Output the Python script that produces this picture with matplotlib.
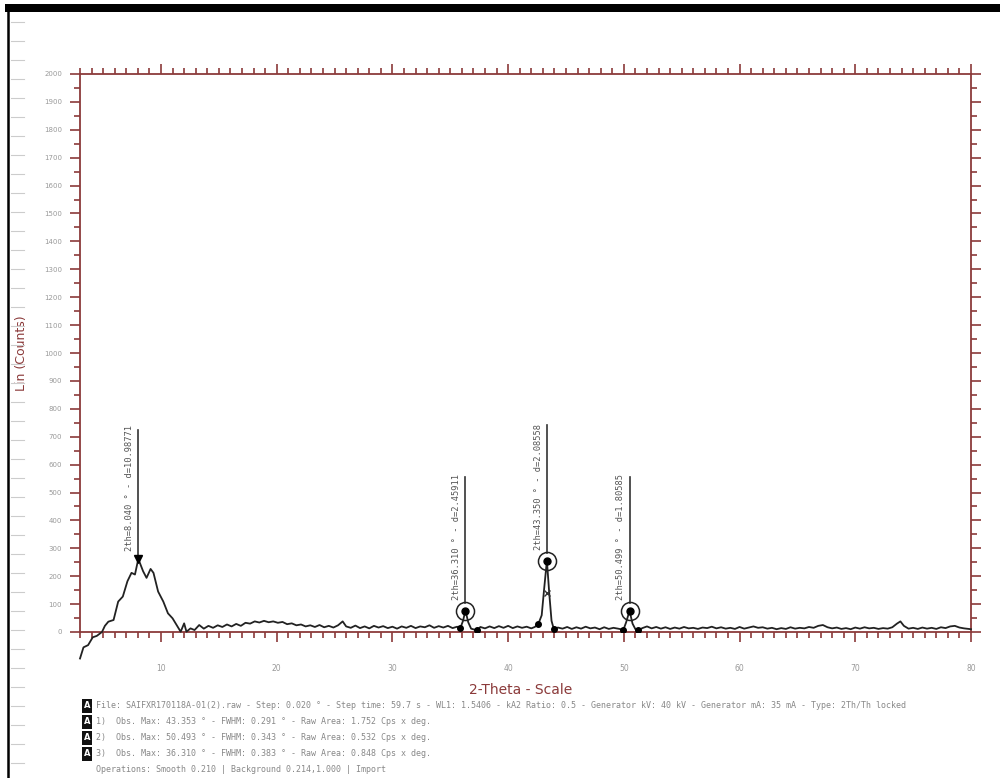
import numpy as np
import matplotlib
matplotlib.use('Agg')
import matplotlib.pyplot as plt
from matplotlib.lines import Line2D
from matplotlib.patches import Rectangle
from matplotlib.ticker import MultipleLocator

# scan data (2-theta in deg, counts)
two_theta = [3.0, 3.3, 3.7, 4.1, 4.45, 4.9, 5.15, 5.45, 5.9, 6.3, 6.7, 7.1, 7.45, 7.75, 8.04,
             8.45, 8.75, 9.1, 9.35, 9.75, 10.2, 10.6, 11.0, 11.35, 11.7, 12.0, 12.2, 12.55, 12.9,
             13.3, 13.7, 14.1, 14.5, 14.9, 15.3, 15.7, 16.1, 16.5, 16.9, 17.3, 17.7, 18.1, 18.5,
             18.9, 19.3, 19.7, 20.1, 20.5, 20.9, 21.3, 21.7, 22.1, 22.5, 22.9, 23.3, 23.7, 24.1,
             24.5, 24.9, 25.3, 25.7, 26.0, 26.4, 26.8, 27.2, 27.6, 28.0, 28.4, 28.8, 29.2, 29.6,
             30.0, 30.4, 30.8, 31.2, 31.6, 32.0, 32.4, 32.8, 33.2, 33.6, 34.0, 34.4, 34.8, 35.2,
             35.6, 35.85, 36.1, 36.31, 36.55, 36.8, 37.3, 37.6, 38.0, 38.4, 38.8, 39.2, 39.6, 40.0,
             40.4, 40.8, 41.2, 41.6, 42.0, 42.3, 42.6, 42.9, 43.1, 43.35, 43.55, 43.75, 43.95, 44.3,
             44.7, 45.1, 45.5, 45.9, 46.3, 46.7, 47.1, 47.5, 47.9, 48.3, 48.7, 49.1, 49.5, 49.96,
             50.2, 50.49, 50.75, 51.0, 51.25, 51.6, 52.0, 52.4, 52.8, 53.2, 53.6, 54.0, 54.4, 54.8,
             55.2, 55.6, 56.0, 56.4, 56.8, 57.2, 57.6, 58.0, 58.4, 58.8, 59.2, 59.6, 60.0, 60.4,
             60.8, 61.2, 61.6, 62.0, 62.4, 62.8, 63.2, 63.6, 64.0, 64.4, 64.8, 65.2, 65.6, 66.0,
             66.4, 66.8, 67.2, 67.6, 68.0, 68.4, 68.8, 69.2, 69.6, 70.0, 70.4, 70.8, 71.2, 71.6,
             72.0, 72.4, 72.8, 73.2, 73.6, 73.9, 74.2, 74.6, 75.0, 75.4, 75.8, 76.2, 76.6, 77.0,
             77.4, 77.8, 78.2, 78.6, 79.0, 79.4, 80.0]
counts = [-95, -55, -47, -19, -14, 0, 22, 37, 43, 109, 127, 182, 212, 206, 262,
          218, 194, 226, 212, 145, 109, 67, 49, 25, 1, 31, 1, 13, 7,
          25, 12, 22, 15, 24, 18, 27, 20, 29, 22, 33, 30, 38, 34,
          40, 35, 38, 33, 36, 28, 31, 24, 27, 20, 24, 18, 25, 17,
          22, 16, 24, 38, 20, 15, 23, 14, 20, 13, 22, 16, 21, 14,
          19, 12, 20, 15, 22, 14, 20, 17, 24, 15, 21, 16, 22, 14,
          19, 12, 40, 77, 35, 12, 6, 18, 13, 20, 14, 21, 15, 22,
          14, 20, 15, 19, 13, 18, 28, 60, 150, 256, 140, 40, 10, 16,
          12, 18, 11, 17, 12, 19, 13, 16, 10, 17, 11, 15, 12, 8,
          35, 76, 30, 10, 6, 14, 20, 13, 18, 12, 17, 11, 16, 12,
          18, 13, 15, 11, 16, 14, 19, 13, 17, 12, 15, 11, 18, 12,
          16, 20, 15, 17, 12, 15, 10, 14, 11, 17, 12, 15, 13, 18,
          15, 22, 25, 17, 13, 16, 11, 14, 10, 16, 12, 17, 13, 15,
          11, 14, 12, 17, 30, 38, 22, 12, 15, 11, 16, 12, 15, 11,
          17, 14, 20, 22, 16, 13, 10]

# peak annotations
peak_pos = [8.04, 36.31, 43.35, 50.49]
peak_val = [262, 77, 256, 76]
stick_top = [725, 555, 741, 555]
text_base = [290, 115, 295, 115]
peak_text = ['2th=8.040 \u00b0 - d=10.98771', '2th=36.310 \u00b0 - d=2.45911',
             '2th=43.350 \u00b0 - d=2.08558', '2th=50.499 \u00b0 - d=1.80585']
bound_x = [35.85, 37.3, 42.6, 43.95, 49.96, 51.25]
bound_y = [14, 6, 28, 10, 8, 6]

legend_lines = [
    'File: SAIFXR170118A-01(2).raw - Step: 0.020 \u00b0 - Step time: 59.7 s - WL1: 1.5406 - kA2 Ratio: 0.5 - Generator kV: 40 kV - Generator mA: 35 mA - Type: 2Th/Th locked',
    '1)  Obs. Max: 43.353 \u00b0 - FWHM: 0.291 \u00b0 - Raw Area: 1.752 Cps x deg.',
    '2)  Obs. Max: 50.493 \u00b0 - FWHM: 0.343 \u00b0 - Raw Area: 0.532 Cps x deg.',
    '3)  Obs. Max: 36.310 \u00b0 - FWHM: 0.383 \u00b0 - Raw Area: 0.848 Cps x deg.',
    'Operations: Smooth 0.210 | Background 0.214,1.000 | Import',
]

axcol = '#8b3a3a'
W, H = 1000, 778
fig = plt.figure(figsize=(10, 7.78), dpi=100)
ax = fig.add_axes([80 / W, 1 - 632 / H, (971 - 80) / W, (632 - 74) / H])

ax.plot(two_theta, counts, color='#222222', lw=1.3, clip_on=False, zorder=3)
ax.set_xlim(3, 80)
ax.set_ylim(0, 2000)

# peak sticks, markers and labels
for x, v, top, tb, s in zip(peak_pos, peak_val, stick_top, text_base, peak_text):
    if x < 10:
        ax.plot([x], [v], marker='v', color='black', ms=6, zorder=5)
        ax.plot([x, x], [v + 15, top], color='#333333', lw=1.2, zorder=4)
    else:
        ax.plot([x], [v], marker='o', mfc='none', mec='#222222', ms=13, mew=1.1, zorder=5)
        ax.plot([x], [v], marker='o', color='black', ms=5, zorder=5)
        ax.plot([x, x], [v + 28, top], color='#333333', lw=1.2, zorder=4)
    ax.text(x - 0.35, tb, s, rotation=90, ha='right', va='bottom', fontsize=6.3,
            family='DejaVu Sans Mono', color='#555555')
ax.plot(bound_x, bound_y, 'o', color='black', ms=4, zorder=5)
ax.plot([43.4], [140], marker='x', color='#333333', ms=5, zorder=5)

# axes styling
for sp in ax.spines.values():
    sp.set_color(axcol)
    sp.set_linewidth(1.3)
ax.xaxis.set_major_locator(MultipleLocator(10))
ax.xaxis.set_minor_locator(MultipleLocator(1))
ax.yaxis.set_major_locator(MultipleLocator(100))
ax.yaxis.set_minor_locator(MultipleLocator(50))
ax.tick_params(which='both', direction='out', color=axcol, width=1.2,
               top=True, right=True, bottom=True, left=True)
ax.tick_params(which='major', length=7)
ax.tick_params(which='minor', length=4)
ax.tick_params(axis='x', labelsize=5.5, labelcolor='#999999', pad=16)
ax.tick_params(axis='y', labelsize=5, labelcolor='#999999', pad=6)
ax.set_xticks([10, 20, 30, 40, 50, 60, 70, 80])
ax.set_xlim(3, 80)
ax.set_yticks(np.arange(0, 2001, 100))
ax.set_ylim(0, 2000)
ax.set_xlabel('2-Theta - Scale', fontsize=10, color=axcol, labelpad=6)
ax.set_ylabel('Lin (Counts)', fontsize=9, color=axcol, labelpad=14)
ax.yaxis.set_label_coords(-52 / 891, 0.5)
ax.xaxis.set_label_coords(0.495, -51 / 558)

# frame decorations: black bar on top, left line with ruler ticks
fig.add_artist(Rectangle((5 / W, 1 - 12 / H), 1, 8 / H, transform=fig.transFigure,
                         color='black', lw=0))
fig.add_artist(Line2D([8 / W, 8 / W], [0, 1 - 8 / H], transform=fig.transFigure,
                      color='black', lw=1.8))
for yp in range(22, 778, 19):
    fig.add_artist(Line2D([11 / W, 24 / W], [1 - yp / H, 1 - yp / H], transform=fig.transFigure,
                          color='#cccccc', lw=0.8))

# info block under the chart
for i, line in enumerate(legend_lines):
    yy = 1 - (706 + 16 * i) / H
    if i < 4:
        fig.text(87 / W, yy, 'A', fontsize=6, color='white', weight='bold', ha='center', va='center',
                 bbox=dict(facecolor='#111111', edgecolor='none', boxstyle='square,pad=0.25'))
    fig.text(96 / W, yy, line, fontsize=6, family='DejaVu Sans Mono', color='#888888', va='center')

fig.savefig('out.png', dpi=100, facecolor='white')
